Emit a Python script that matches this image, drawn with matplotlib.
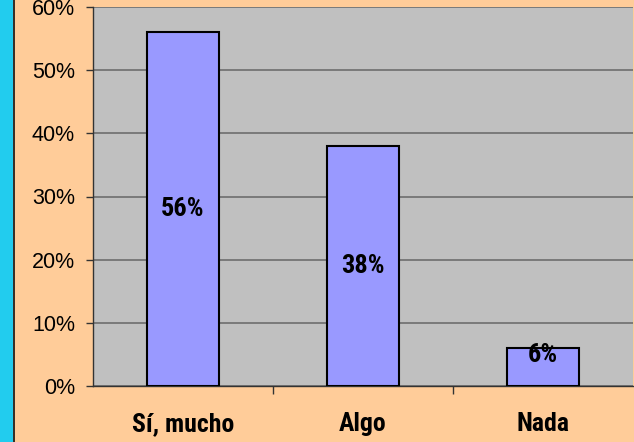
import matplotlib
matplotlib.use("Agg")
import matplotlib.pyplot as plt
from matplotlib.patches import Rectangle
from matplotlib.lines import Line2D
from matplotlib.ticker import FixedLocator, FuncFormatter
from matplotlib import font_manager
from matplotlib.font_manager import FontProperties
import os

categories = ["Sí, mucho", "Algo", "Nada"]
values = [56, 38, 6]
yticks = [0, 10, 20, 30, 40, 50, 60]


def find_narrow_bold():
    prefs = ["liberationsansnarrow-bold.", "robotocondensed-bold", "dejavusanscondensed-bold.",
             "opensans_condensed-bold", "opensanscondensed-bold", "notosans-condensedbold"]
    files = [f.fname for f in font_manager.fontManager.ttflist]
    low = {os.path.basename(p).lower().replace(" ", ""): p for p in files}
    for pref in prefs:
        for k, p in low.items():
            if k.startswith(pref):
                return p
    for f in font_manager.fontManager.ttflist:
        if f.stretch in ("condensed", "semi-condensed") and f.weight in (600, 700, "bold"):
            return f.fname
    return None


nb = find_narrow_bold()
if nb and ("narrow" in nb.lower() or "condensed" in nb.lower()):
    bold_fp = FontProperties(fname=nb, size=18.5)
    data_fp = FontProperties(fname=nb, size=19)
else:
    bold_fp = FontProperties(family="Liberation Sans", weight="bold", size=16)
    data_fp = FontProperties(family="Liberation Sans", weight="bold", size=16)

ytick_fp = FontProperties(family="Liberation Sans", size=15.5)

W, H = 634, 442
fig = plt.figure(figsize=(W / 100, H / 100), dpi=100)
fig.patch.set_facecolor("#FFCC99")

# cyan strip at the left
fig.patches.append(Rectangle((0, 0), 13 / W, 1, transform=fig.transFigure,
                             facecolor="#22CCEE", edgecolor="none", zorder=0))
fig.lines.append(Line2D([13.5 / W, 13.5 / W], [0, 1], transform=fig.transFigure,
                        color="#111111", lw=1.2))

left, right = 93 / W, 633 / W
bottom, top = (H - 386) / H, (H - 7) / H
ax = fig.add_axes([left, bottom, right - left, top - bottom])
ax.set_facecolor("#C0C0C0")

x = list(range(len(categories)))
ax.bar(x, values, width=0.4, color="#9999FF", edgecolor="black",
       linewidth=1.5, zorder=3)

ax.set_xlim(-0.5, len(categories) - 0.5)
ax.set_ylim(0, 60)
ax.set_yticks(yticks)
ax.set_yticklabels([f"{v}%" for v in yticks], fontproperties=ytick_fp)
ax.yaxis.grid(True, color="#7A7A7A", lw=1.4, zorder=1)
ax.set_axisbelow(True)

ax.set_xticks(x)
ax.set_xticklabels(categories, fontproperties=bold_fp)
ax.xaxis.set_minor_locator(FixedLocator([i + 0.5 for i in range(len(categories) - 1)]))
ax.tick_params(axis="x", which="major", length=0, pad=19)
ax.tick_params(axis="x", which="minor", length=6, width=1, color="#333333", direction="out")
ax.tick_params(axis="y", length=5, width=1, color="#333333", pad=8)

for s in ["top", "right"]:
    ax.spines[s].set_visible(False)
ax.spines["left"].set_color("#333333")
ax.spines["bottom"].set_color("#333333")
ax.spines["left"].set_linewidth(1)
ax.spines["bottom"].set_linewidth(1)

for xi, v in zip(x, values):
    ypos = v / 2 if v > 10 else v - 1.1
    ax.text(xi, ypos, f"{v}%", ha="center", va="center", fontproperties=data_fp, zorder=4)

fig.savefig("out.png", dpi=100, facecolor=fig.get_facecolor())
